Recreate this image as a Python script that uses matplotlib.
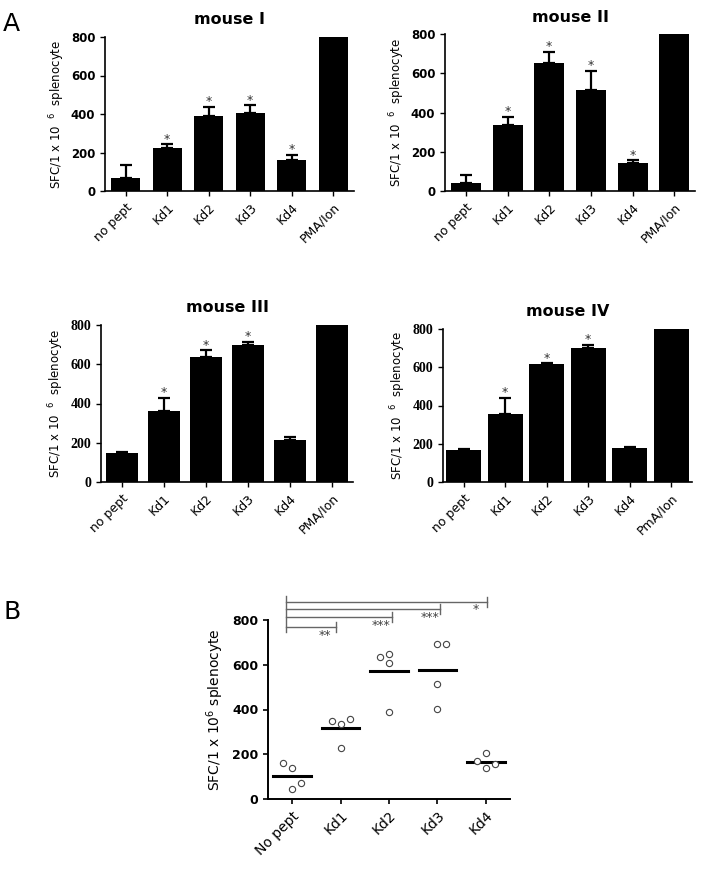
"""
ELISpot SFC counts per mouse (panel A) and pooled (panel B).
"""

import numpy as np
import matplotlib.pyplot as plt

W, H = 701, 869

cats = ['no pept', 'Kd1', 'Kd2', 'Kd3', 'Kd4', 'PMA/Ion']
cats_iv = ['no pept', 'Kd1', 'Kd2', 'Kd3', 'Kd4', 'PmA/Ion']

# mean and upper error (SEM) per mouse
m1_mean = [67, 223, 390, 405, 161, 800]
m1_err = [70, 19, 46, 40, 28, 0]
m1_sig = [0, 1, 1, 1, 1, 0]

m2_mean = [41, 337, 650, 517, 141, 800]
m2_err = [42, 41, 58, 94, 16, 0]
m2_sig = [0, 1, 1, 1, 1, 0]

m3_mean = [146, 363, 638, 698, 214, 800]
m3_err = [5, 67, 34, 15, 14, 0]
m3_sig = [0, 1, 1, 1, 0, 0]

m4_mean = [167, 355, 615, 699, 176, 800]
m4_err = [5, 86, 5, 17, 5, 0]
m4_sig = [0, 1, 1, 1, 0, 0]

# panel B, individual mice
b_cats = ['No pept', 'Kd1', 'Kd2', 'Kd3', 'Kd4']
b_nopept = [159, 137, 43, 73]
b_kd1 = [347, 334, 359, 227]
b_kd2 = [635, 650, 610, 389]
b_kd3 = [691, 693, 516, 404]
b_kd4 = [170, 204, 140, 156]
b_cmp = [1, 2, 3, 4]
b_stars = ['**', '***', '***', '*']


def box(l, t, w, b):
    return [l / W, 1 - b / H, w / W, (b - t) / H]


def bar_panel(ax, title, means, errs, sig, labels, width, tickfam, ylab):
    x = np.arange(len(means))
    lo = np.zeros(len(errs))
    ax.bar(x, means, width=width, color='black', zorder=2)
    ax.errorbar(x, means, yerr=[lo, errs], fmt='none', ecolor='black',
                elinewidth=1.6, capsize=4, capthick=1.6, zorder=3)
    for i in range(len(means)):
        if sig[i]:
            ax.annotate('*', (x[i], means[i] + errs[i]), xytext=(0, -1),
                        textcoords='offset points', ha='center', va='bottom',
                        fontsize=9, color='#333333')
    ax.set_xlim(-0.5, len(means) - 0.5)
    ax.set_ylim(0, 800)
    ax.set_yticks([0, 200, 400, 600, 800])
    ax.set_xticks(x)
    ax.set_xticklabels(labels, rotation=45, ha='right', rotation_mode='anchor',
                       fontsize=9)
    for t in ax.get_yticklabels():
        t.set_family(tickfam)
        t.set_fontweight('bold')
        t.set_fontsize(8.5 if tickfam == 'DejaVu Sans' else 10)
    ax.spines['top'].set_visible(False)
    ax.spines['right'].set_visible(False)
    ax.spines['left'].set_linewidth(1.2)
    ax.spines['bottom'].set_linewidth(1.2)
    ax.tick_params(length=3.5, width=1)
    ax.set_title(title, fontsize=11.5, fontweight='bold', pad=9)
    ax.set_ylabel(ylab, fontsize=8.5, labelpad=3)


fig = plt.figure(figsize=(W / 100, H / 100), dpi=100)

ax1 = fig.add_axes(box(105, 37, 249, 191))
ax2 = fig.add_axes(box(445, 34, 250, 191))
ax3 = fig.add_axes(box(101, 325, 252, 482))
ax4 = fig.add_axes(box(443, 329, 249, 482))
axb = fig.add_axes(box(268, 620, 242, 799))

lab = r'SFC/1 x 10  $^{6}$  splenocyte'
bar_panel(ax1, 'mouse I', m1_mean, m1_err, m1_sig, cats, 0.7, 'DejaVu Sans', lab)
bar_panel(ax2, 'mouse II', m2_mean, m2_err, m2_sig, cats, 0.72, 'DejaVu Sans', lab)
bar_panel(ax3, 'mouse III', m3_mean, m3_err, m3_sig, cats, 0.74, 'Liberation Serif', lab)
bar_panel(ax4, 'mouse IV', m4_mean, m4_err, m4_sig, cats_iv, 0.84, 'Liberation Serif', lab)

# panel B scatter
groups = [b_nopept, b_kd1, b_kd2, b_kd3, b_kd4]
jitter = [[-0.19, 0, 0, 0.19], [-0.18, 0, 0.2, 0], [-0.19, 0, 0, 0],
          [0, 0.18, 0, 0], [-0.19, 0, 0, 0.19]]
for i, g in enumerate(groups):
    xs = i + np.array(jitter[i])
    axb.plot(xs, g, 'o', ms=4.5, mfc='white', mec='#444444', mew=0.8, zorder=3)
    axb.plot([i - 0.39, i + 0.39], [np.mean(g)] * 2, color='black', lw=2.2, zorder=2)

axb.set_xlim(-0.5, 4.5)
axb.set_ylim(0, 800)
axb.set_yticks([0, 200, 400, 600, 800])
axb.set_xticks(range(len(b_cats)))
axb.set_xticklabels(b_cats, rotation=45, ha='right', rotation_mode='anchor', fontsize=10)
for t in axb.get_yticklabels():
    t.set_fontweight('bold')
    t.set_fontsize(9)
axb.spines['top'].set_visible(False)
axb.spines['right'].set_visible(False)
axb.spines['left'].set_linewidth(1.4)
axb.spines['bottom'].set_linewidth(1.4)
axb.tick_params(length=3.5, width=1.2)
axb.set_ylabel(r'SFC/1 x 10$^{6}$ splenocyte', fontsize=10, labelpad=4)

# significance brackets vs no pept
gc = '#666666'
ys = [770, 812, 849, 882]
x0 = -0.12
axb.plot([x0, x0], [748, 909], color=gc, lw=1, clip_on=False)
for k, j in enumerate(b_cmp):
    xe = j + [-0.1, 0.06, 0.06, 0.02][k]
    axb.plot([x0, xe], [ys[k], ys[k]], color=gc, lw=1, clip_on=False)
    axb.plot([xe, xe], [ys[k] - 22, ys[k] + 22], color=gc, lw=1, clip_on=False)
    axb.text(xe - 0.22, ys[k] - 8, b_stars[k], ha='center', va='top',
             fontsize=9, color='#444444', clip_on=False)

fig.text(3 / W, 1 - 12 / H, 'A', fontsize=18, va='top', ha='left')
fig.text(3 / W, 1 - 600 / H, 'B', fontsize=18, va='top', ha='left')

plt.savefig('out.png', dpi=100)
plt.close()
